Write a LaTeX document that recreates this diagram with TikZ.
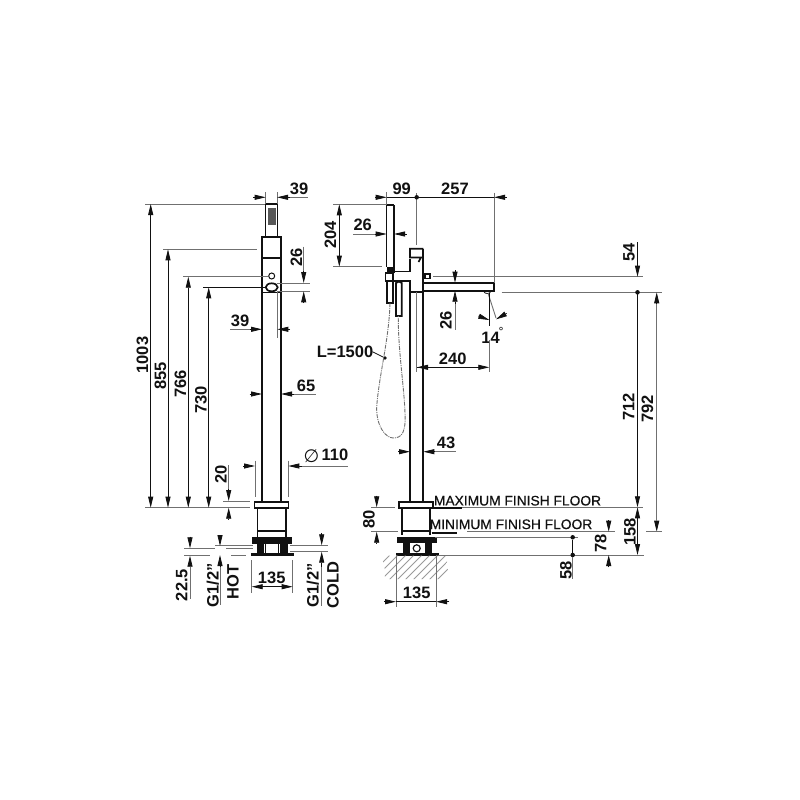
\documentclass[tikz,border=0pt]{standalone}
\usepackage{fontspec}
\setmainfont{Liberation Sans}
\newfontfamily\capsfont[FakeBold=0.5]{Liberation Sans}
\newfontfamily\symfont{DejaVu Sans}
\usetikzlibrary{arrows.meta}
\definecolor{ink}{HTML}{111111}
\definecolor{grey}{HTML}{707070}
\definecolor{hatch}{HTML}{9A9A9A}
\tikzset{
  body/.style={draw=ink, line width=1.7pt},
  heavy/.style={fill=ink, draw=ink, line width=0.4pt},
  dimline/.style={draw=ink, line width=0.8pt},
  ext/.style={draw=grey, line width=0.9pt},
  tip/.style={dimline, -{Triangle[length=11pt,width=5pt]}},
  hose/.style={draw=grey, line width=0.9pt, dash pattern=on 4pt off 1pt on 1pt off 1pt},
  num/.style={text=ink, font=\fontsize{16.5}{17}\selectfont\bfseries, inner sep=0pt},
  vnum/.style={num, rotate=90},
  floorlab/.style={text=ink, font=\fontsize{13.8}{14}\selectfont\capsfont, inner sep=0pt},
  dimdot/.style={circle, fill=ink, inner sep=1.6pt},
}
\begin{document}
\begin{tikzpicture}[x=1pt,y=-1pt]
  \fill[white] (0,0) rectangle (800,800);
  \useasboundingbox (0,0) rectangle (800,800);

  % front view
  \draw[body] (265.5,237) |- (277.5,204) -- (277.5,237);
  \fill[ink!70] (268,208) rectangle (276,225);
  \draw[body] (262,237) rectangle (281,258);
  \draw[body] (262,258) -- (262,502) (281,258) -- (281,502);
  \draw[body] (262,292.5) -- (281,292.5);
  \draw[body, line width=1pt] (271.7,276) circle (3);
  \draw[body] (271.7,287.3) ellipse (6 and 4);
  \draw[ext] (277.3,292) -- (277.3,338);
  \draw[body] (254.5,502) rectangle (288.5,508.3);
  \draw[body] (257.5,508.3) -- (257.5,537) (286,508.3) -- (286,537);
  \draw[body, line width=2pt] (257.5,530.7) -- (286,530.7);
  \fill[heavy] (252,537.3) rectangle (291,542.7);
  \fill[heavy] (256.7,542.7) rectangle (262.7,553);
  \fill[heavy] (280,542.7) rectangle (286.7,553);
  \draw[body, line width=1pt] (265,542.7) rectangle (278,553);
  \fill[heavy] (250.7,553.3) rectangle (292.7,555.3);

  % side view
  \draw[body, line width=1.2pt] (386.7,266.7) |- (394,205);
  \draw[body] (394,205) -- (394,266.7);
  \fill[heavy] (387,266.7) rectangle (394.5,272.5);
  \draw[body] (423.3,248.7) -- (410,248.7) -- (410,257.5) -- (421,257.5) -- (418.5,262);
  \draw[body] (423.3,248.7) -- (423.3,502);
  \draw[body] (410.3,259) -- (410.3,271.5) -- (394,271.5);
  \draw[body] (385.5,273) rectangle (393,280.7);
  \draw[body] (393,280.7) -- (410.3,280.7) -- (410.3,502);
  \draw[body] (410.3,291.7) -- (423.3,291.7);
  \draw[body] (387.3,280.7) rectangle (392.7,302.7);
  \draw[body] (396,316) -- (396,283) -- (398.8,281.5) -- (401.7,283) -- (401.7,316) -- cycle;
  \draw[ext] (416.7,292) -- (416.7,372);
  \draw[body] (425,274) rectangle (430,278.6);
  \draw[body] (423.3,282.7) -- (494,282.7) -- (494,290.7) -- (423.3,290.7);
  \draw[body, line width=0.8pt] (487.3,292) ellipse (3 and 1.5);
  \draw[hose] (390,303) .. controls (389,340) and (379,375) .. (376.7,406.7)
    .. controls (376,425) and (385,438) .. (393.3,438)
    .. controls (402,438) and (406,432) .. (405,413)
    .. controls (404,385) and (398,350) .. (398.3,316);
  \draw[body] (399.3,502) rectangle (432.7,508.3);
  \draw[body] (402.3,508.3) -- (402.3,535) (430,508.3) -- (430,535);
  \draw[body, line width=2pt] (402.3,530.7) -- (430,530.7);
  \fill[heavy] (397.3,537.3) rectangle (436,542.3);
  \fill[heavy] (403.3,542.3) rectangle (409.3,553);
  \fill[heavy] (425,542.3) rectangle (430.7,553);
  \draw[body, line width=1.2pt] (416.7,548.3) circle (3.5);
  \fill[heavy] (396,553) rectangle (437.7,555);
  % floor
  \begin{scope}
    \clip (381.7,555.5) -- (448.3,555.5) -- (446,566) -- (449,572) -- (444,579) -- (385,579) -- (384.5,568) -- cycle;
    \foreach \hx in {360,368,...,480}
      \draw[hatch, line width=0.9pt] (\hx,585) -- (\hx+35,550);
  \end{scope}

  % dimensions, front view
  \draw[ext] (145,204) -- (265,204);
  \draw[ext] (163,249.3) -- (257,249.3);
  \draw[ext] (183,276.7) -- (268,276.7);
  \draw[dimline] (203,287.3) -- (265,287.3);
  \draw[ext] (145,507.7) -- (250,507.7);
  \foreach \hx/\hy in {150.7/204,168/249.3,188.3/276.7,208.7/287.3} {
    \draw[tip] (\hx,\hy+70) -- (\hx,\hy);
    \draw[tip] (\hx,400) -- (\hx,507.7);
    \draw[dimline] (\hx,\hy+60) -- (\hx,410);
  }
  \node[vnum] (n1003) at (142.5,355) {1003};
  \node[vnum] (n855) at (160.5,376) {855};
  \node[vnum] (n766) at (180.5,384) {766};
  \node[vnum] (n730) at (201,400) {730};

  \draw[ext] (265.7,192) -- (265.7,204) (277,192) -- (277,204);
  \draw[tip] (253,197.3) -- (265.7,197.3);
  \draw[tip] (290,197.3) -- (277,197.3);
  \draw[ext] (290,197.3) -- (308,197.3);
  \node[num] (n39a) at (299,189) {39};

  \draw[ext] (277,283) -- (310,283) (277,291.3) -- (310,291.3);
  \draw[ext] (303.7,246.7) -- (303.7,272);
  \draw[tip] (303.7,271) -- (303.7,283);
  \draw[tip] (303.7,303) -- (303.7,291.3);
  \node[vnum] (n26a) at (296.5,257) {26};

  \draw[ext] (230,329.3) -- (253,329.3);
  \draw[tip] (250,329.3) -- (262,329.3);
  \draw[tip] (290,329.3) -- (277.3,329.3);
  \node[num] (n39b) at (240,320.7) {39};

  \draw[tip] (249.5,394) -- (262,394);
  \draw[tip] (294,394) -- (281,394);
  \draw[ext] (294,394) -- (316,394);
  \node[num] (n65) at (306,386) {65};

  \draw[ext] (255,460.7) -- (255,496.7) (288.3,460.7) -- (288.3,496.7);
  \draw[tip] (243,466) -- (255,466);
  \draw[tip] (301.7,466) -- (288.3,466);
  \draw[ext] (301.7,466) -- (348,466);
  \node[text=ink, inner sep=0pt, font=\fontsize{18}{18}\selectfont\symfont] (ndia) at (311.5,456.5) {∅};
  \node[num] (n110) at (335,455) {110};

  \draw[ext] (223,501) -- (250,501);
  \draw[ext] (228.7,465) -- (228.7,490);
  \draw[tip] (228.7,489) -- (228.7,501);
  \draw[tip] (228.7,519) -- (228.7,507.7);
  \node[vnum] (n20) at (221,474) {20};

  \draw[ext] (184,548.3) -- (215,548.3) (184,555.7) -- (210,555.7);
  \draw[tip] (190,536.7) -- (190,548.3);
  \draw[tip] (190,567) -- (190,555.7);
  \draw[ext] (190,567) -- (190,599);
  \node[vnum] (n225) at (181.7,585) {22.5};

  \draw[ext] (215,545.7) -- (253,545.7) (226,548.3) -- (253,548.3) (231,555) -- (246,555);
  \draw[tip] (220,535) -- (220,546);
  \draw[tip] (220,566.7) -- (220,555);
  \draw[ext] (220,566.7) -- (220,605);
  \node[vnum] (ngh) at (212.7,585) {G1/2\char"22};
  \node[vnum] (nhot) at (233,581.7) {HOT};

  \draw[ext] (290,545.3) -- (328,545.3) (290,551.7) -- (328,551.7);
  \draw[tip] (321.7,533) -- (321.7,545.3);
  \draw[tip] (321.7,566.7) -- (321.7,551.7);
  \draw[ext] (321.7,566.7) -- (321.7,606);
  \node[vnum] (ngc) at (312.7,585) {G1/2\char"22};
  \node[vnum] (ncold) at (333,585) {COLD};

  \draw[ext] (251.7,560) -- (251.7,592.7) (292.7,560) -- (292.7,592.7);
  \draw[tip] (263,586.7) -- (251.7,586.7);
  \draw[tip] (281,586.7) -- (292.7,586.7);
  \draw[dimline] (260,586.7) -- (284,586.7);
  \node[num] (n135a) at (271.7,578) {135};

  % dimensions, side view
  \draw[ext] (386.7,192) -- (386.7,205);
  \draw[ext] (416.7,193) -- (416.7,245);
  \draw[ext] (494,192.7) -- (494,283);
  \draw[tip] (375,197.3) -- (386.7,197.3);
  \draw[dimline] (386.7,197.3) -- (494,197.3);
  \draw[tip] (506.7,197.3) -- (494,197.3);
  \node[dimdot] (d99) at (416.7,197.3) {};
  \node[num] (n99) at (401.7,189) {99};
  \node[num] (n257) at (455,189) {257};

  \draw[ext] (333,204.3) -- (386,204.3) (333,266.7) -- (381.7,266.7);
  \draw[tip] (339.3,225) -- (339.3,204.3);
  \draw[tip] (339.3,245) -- (339.3,266.7);
  \draw[dimline] (339.3,220) -- (339.3,250);
  \node[vnum] (n204) at (330.5,235) {204};

  \draw[ext] (353.3,234) -- (375,234);
  \draw[tip] (375,234) -- (386.7,234);
  \draw[tip] (406.7,234) -- (394,234);
  \node[num] (n26b) at (362.7,225) {26};

  \draw[ext] (433,276.7) -- (643,276.7);
  \draw[ext] (501.7,292.3) -- (661.7,292.3);
  \draw[dimline] (637.5,242.3) -- (637.5,266);
  \draw[tip] (637.5,265) -- (637.5,276.7);
  \node[dimdot] (d712) at (637.5,292.3) {};
  \draw[dimline] (637.5,292.3) -- (637.5,496);
  \node[vnum] (n54) at (629,252) {54};

  \draw[tip] (637.5,496) -- (637.5,507.3);
  \draw[tip] (637.5,519) -- (637.5,507.3);
  \draw[tip] (637.5,543) -- (637.5,555);
  \draw[dimline] (637.5,518) -- (637.5,544);
  \node[vnum] (n712) at (628.5,407) {712};
  \node[vnum] (n158) at (630,531.7) {158};

  \draw[tip] (656.7,304) -- (656.7,292.3);
  \draw[tip] (656.7,520) -- (656.7,531.7);
  \draw[ext] (656.7,304) -- (656.7,521);
  \node[vnum] (n792) at (647.5,409) {792};

  \draw[tip] (455,270) -- (455,282.7);
  \draw[tip] (455,304) -- (455,290.7);
  \draw[ext] (455,304) -- (455,330);
  \node[vnum] (n26c) at (446,320) {26};

  \draw[ext] (488,293) -- (496,318);
  \draw[dimline] (489.3,293) -- (489.3,326);
  \draw[tip, line width=0.6pt] (478.3,316) -- (489.3,320);
  \draw[tip, line width=0.6pt] (506.7,313.3) -- (496,319.3);
  \node[num] (n14) at (490.5,338) {14};
  \node[text=ink, font=\fontsize{11}{11}\selectfont\symfont, inner sep=0pt] (ndeg) at (501,331) {°};

  \node[num] (nhose) at (345,352) {L=1500};
  \node[circle, fill=ink, inner sep=1.3pt] (dhose) at (385,358) {};
  \draw[dimline] (nhose.east) -- (373,352) -- (dhose);

  \draw[ext] (489.3,340) -- (489.3,372);
  \draw[dimline] (417,367.3) -- (478,367.3);
  \draw[tip] (430,367.3) -- (417,367.3);
  \draw[tip] (477,367.3) -- (489.3,367.3);
  \node[num] (n240) at (452.7,359) {240};

  \draw[tip] (398,451.7) -- (410,451.7);
  \draw[tip] (435,451.7) -- (423.3,451.7);
  \draw[ext] (435,451.7) -- (455.7,451.7);
  \node[num] (n43) at (446,442.7) {43};

  \node[floorlab] (lmax) at (517.5,500.7) {MAXIMUM FINISH FLOOR};
  \node[floorlab] (lmin) at (511,524.3) {MINIMUM FINISH FLOOR};
  \draw[ext] (460,507.3) -- (643,507.3);
  \draw[ink, line width=2.2pt] (431.7,507.7) -- (461.7,507.7);
  \draw[ext] (467,531.7) -- (615,531.7) (646,531.7) -- (661.7,531.7);
  \draw[ink, line width=2.2pt] (431.7,532.7) -- (456.7,532.7);
  \draw[ext] (435,537.3) -- (578,537.3);
  \draw[ext] (438,555) -- (644,555);

  \node[dimdot] (d58a) at (572.7,537.3) {};
  \node[dimdot] (d58b) at (572.7,555) {};
  \draw[dimline] (d58a) -- (d58b);
  \draw[ext] (d58b) -- (572.7,579.3);
  \node[vnum] (n58) at (566,570) {58};

  \draw[tip] (608.7,520) -- (608.7,531.7);
  \draw[tip] (608.7,567.3) -- (608.7,555);
  \node[vnum] (n78) at (600.7,543.3) {78};

  \draw[ext] (371,507.3) -- (395,507.3) (371,531.7) -- (398,531.7);
  \draw[tip] (376.7,495.7) -- (376.7,507.3);
  \draw[tip] (376.7,543.3) -- (376.7,531.7);
  \node[vnum] (n80) at (369,519) {80};

  \draw[ext] (396,555) -- (396,606.7) (436,555) -- (436,606.7);
  \draw[tip] (384,601.7) -- (396,601.7);
  \draw[tip] (449.3,601.7) -- (436,601.7);
  \draw[dimline] (396,601.7) -- (436,601.7);
  \node[num] (n135b) at (416.7,592.7) {135};
\end{tikzpicture}
\end{document}
